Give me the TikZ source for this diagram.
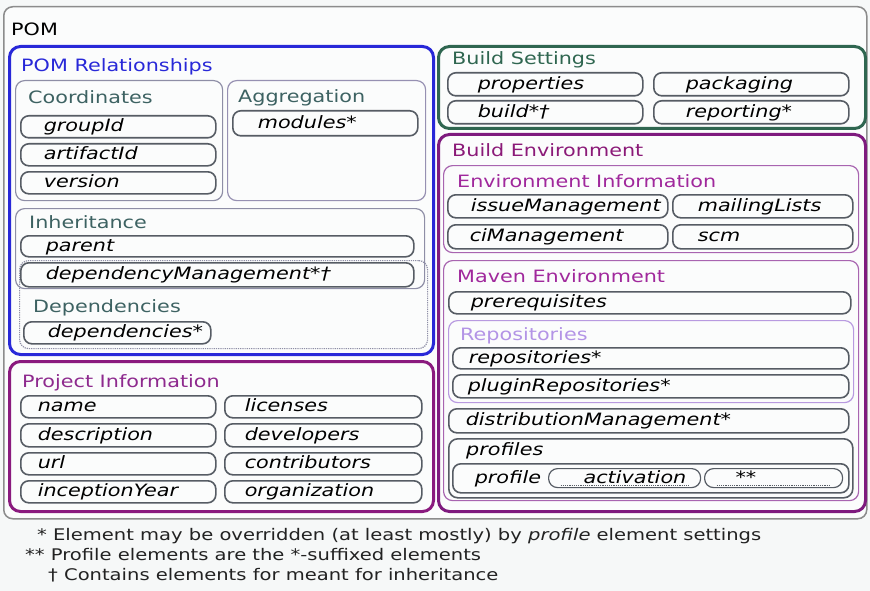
\documentclass[tikz,border=0pt]{standalone}
\usepackage{fontspec}
\setmainfont{DejaVu Sans}[FakeStretch=1.22, ItalicFont={DejaVu Sans Oblique}]
\usepackage{tikz}
\usepackage{xcolor}

\definecolor{pagebg}{HTML}{F6F8F8}
\definecolor{boxbg}{HTML}{FBFCFC}
\definecolor{pomline}{HTML}{8C8C8C}
\definecolor{relblue}{HTML}{2828D8}
\definecolor{subline}{HTML}{8E8EA6}
\definecolor{subtext}{HTML}{3D6262}
\definecolor{elemline}{HTML}{565C64}
\definecolor{projpurple}{HTML}{8A1A7E}
\definecolor{projtext}{HTML}{8E2A8E}
\definecolor{setgreen}{HTML}{2F6650}
\definecolor{envpurple}{HTML}{7E1A7E}
\definecolor{envtext}{HTML}{8B1A78}
\definecolor{infoline}{HTML}{A864B0}
\definecolor{infotext}{HTML}{A0289C}
\definecolor{repoline}{HTML}{B89AE0}
\definecolor{repotext}{HTML}{B394E6}
\definecolor{notetext}{HTML}{222222}

\begin{document}
\begin{tikzpicture}[
  x=1pt, y=-1pt,
  font=\fontsize{17}{20}\selectfont,
  panel/.style={draw=#1, line width=3pt, rounded corners=11pt, anchor=north west, inner sep=0pt},
  grp/.style={draw=#1, line width=1.2pt, rounded corners=9pt, anchor=north west, inner sep=0pt},
  heading/.style={anchor=base west, inner sep=0pt, text=#1},
  elem/.style={draw=elemline, line width=1.6pt, rounded corners=8pt, anchor=north west,
    font=\fontsize{17}{20}\selectfont\itshape, align=left, inner xsep=#1, inner ysep=0pt,
    text height=13pt, text depth=3pt},
  elem/.default=22pt,
  subelem/.style={elem=#1, line width=1.2pt, rounded corners=9pt,
    path picture={\draw[densely dotted, elemline] ([xshift=12pt,yshift=2pt]path picture bounding box.south west)
      -- ([xshift=-12pt,yshift=2pt]path picture bounding box.south east);}},
  note/.style={anchor=base west, inner sep=0pt, text=notetext, font=\fontsize{16}{19}\selectfont}
]

% page and outer POM box
\fill[pagebg] (0,0) rectangle (870,591);
\useasboundingbox (0,0) rectangle (870,591);
\node[grp=pomline, line width=1.5pt, fill=boxbg, minimum width=863pt, minimum height=512pt] (pom) at (3,6) {};
\node[heading=black] (pomT) at (11,36) {POM};

% POM Relationships
\node[panel=relblue, minimum width=424pt, minimum height=308pt] (rel) at (8,45) {};
\node[heading=relblue] (relT) at (21,72) {POM Relationships};

\node[grp=subline, minimum width=207pt, minimum height=120pt] (coord) at (15,80) {};
\node[heading=subtext] (coordT) at (28,104) {Coordinates};
\node[elem=23pt, text width=149pt, minimum height=22pt] (groupId) at (20,115) {groupId};
\node[elem=23pt, text width=149pt, minimum height=22pt] (artifactId) at (20,143) {artifactId};
\node[elem=23pt, text width=149pt, minimum height=22pt] (version) at (20,171) {version};

\node[grp=subline!80!repoline, minimum width=198pt, minimum height=120pt] (aggr) at (227,80) {};
\node[heading=subtext] (aggrT) at (238,103) {Aggregation};
\node[elem=25pt, text width=135pt, minimum height=25pt] (modules) at (232,110) {modules*};

\node[grp=subline, minimum width=409pt, minimum height=80pt] (inher) at (15,208) {};
\node[heading=subtext] (inherT) at (29,228) {Inheritance};
\node[grp=subline, densely dotted, minimum width=408pt, minimum height=88pt] (deps) at (19,260) {};
\node[heading=subtext] (depsT) at (33,312) {Dependencies};
\node[elem=25pt, text width=343pt, minimum height=21pt] (parent) at (20,235) {parent};
\node[elem=25pt, text width=343pt, minimum height=24pt] (depMgmt) at (20,262) {dependencyManagement*†};
\node[elem=24pt, text width=139pt, minimum height=22pt] (dependencies) at (23,321) {dependencies*};

% Project Information
\node[panel=projpurple, minimum width=424pt, minimum height=150pt] (proj) at (8,360) {};
\node[heading=projtext] (projT) at (22,387) {Project Information};
\node[elem=17pt, text width=161pt, minimum height=22pt] (name) at (20,395) {name};
\node[elem=17pt, text width=161pt, minimum height=23pt] (description) at (20,423) {description};
\node[elem=17pt, text width=161pt, minimum height=22pt] (url) at (20,452) {url};
\node[elem=17pt, text width=161pt, minimum height=22pt] (inceptionYear) at (20,480) {inceptionYear};
\node[elem=20pt, text width=157pt, minimum height=22pt] (licenses) at (224,395) {licenses};
\node[elem=20pt, text width=157pt, minimum height=23pt] (developers) at (224,423) {developers};
\node[elem=20pt, text width=157pt, minimum height=22pt] (contributors) at (224,452) {contributors};
\node[elem=20pt, text width=157pt, minimum height=22pt] (organization) at (224,480) {organization};

% Build Settings
\node[panel=setgreen, minimum width=427pt, minimum height=82pt] (bset) at (437,45) {};
\node[heading=setgreen] (bsetT) at (452,65) {Build Settings};
\node[elem=30pt, text width=135pt, minimum height=23pt] (properties) at (447,72) {properties};
\node[elem=30pt, text width=135pt, minimum height=23pt] (build) at (447,100) {build*†};
\node[elem=32pt, text width=131pt, minimum height=23pt] (packaging) at (653,72) {packaging};
\node[elem=32pt, text width=131pt, minimum height=23pt] (reporting) at (653,100) {reporting*};

% Build Environment
\node[panel=envpurple, minimum width=427pt, minimum height=377pt] (benv) at (437,133) {};
\node[heading=envtext] (benvT) at (452,157) {Build Environment};

\node[grp=infoline, minimum width=415pt, minimum height=87pt] (envinfo) at (443,165) {};
\node[heading=infotext] (envinfoT) at (457,187) {Environment Information};
\node[elem=23pt, text width=174pt, minimum height=23pt] (issueMgmt) at (447,194) {issueManagement};
\node[elem=25pt, text width=130pt, minimum height=23pt] (mailingLists) at (672,194) {mailingLists};
\node[elem=22pt, text width=176pt, minimum height=24pt] (ciMgmt) at (447,224) {ciManagement};
\node[elem=25pt, text width=130pt, minimum height=24pt] (scm) at (672,224) {scm};

\node[grp=infoline, minimum width=415pt, minimum height=240pt] (mavenv) at (443,260) {};
\node[heading=infotext] (mavenvT) at (457,282) {Maven Environment};
\node[elem=22pt, text width=358pt, minimum height=22pt] (prereq) at (448,291) {prerequisites};

\node[grp=repoline, minimum width=405pt, minimum height=82pt] (repos) at (448,320) {};
\node[heading=repotext] (reposT) at (460,340) {Repositories};
\node[elem=16pt, text width=364pt, minimum height=21pt] (repositories) at (452,347) {repositories*};
\node[elem=15pt, text width=366pt, minimum height=23pt] (pluginRepos) at (452,374) {pluginRepositories*};

\node[elem=17pt, text width=366pt, minimum height=24pt] (distMgmt) at (448,408) {distributionManagement*};

\node[grp=elemline, line width=1.6pt, minimum width=404pt, minimum height=59pt] (profiles) at (448,438) {};
\node[heading=black, font=\fontsize{17}{20}\selectfont\itshape] (profilesT) at (466,455) {profiles};
\node[elem=22pt, text width=352pt, minimum height=29pt] (profile) at (452,463) {profile};
\node[subelem=35pt, text width=82pt, minimum height=19pt] (activation) at (548,468) {activation};
\node[subelem=31pt, text width=76pt, minimum height=19pt] (stars) at (704,468) {**};

% notes
\node[note] (noteA) at (37,540) {* Element may be overridden (at least mostly) by \textit{profile} element settings};
\node[note] (noteB) at (25,560) {** Profile elements are the *-suffixed elements};
\node[note] (noteC) at (48,580) {† Contains elements for meant for inheritance};

\end{tikzpicture}
\end{document}
